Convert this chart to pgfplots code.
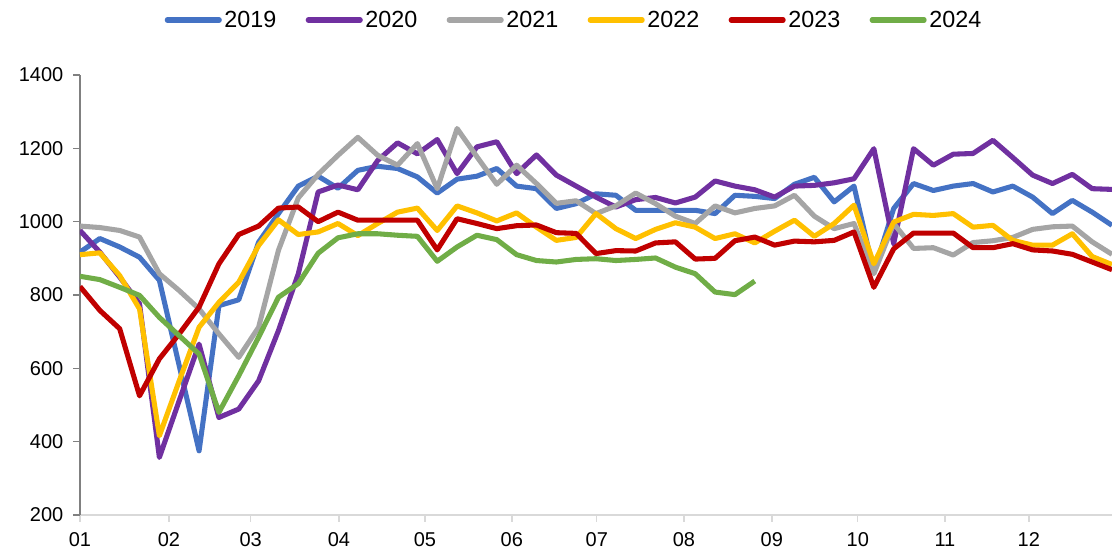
\documentclass[border=0pt]{standalone}
\usepackage{pgfplots}
\usepackage{pgfplotstable}
\pgfplotsset{compat=1.18}
\usepackage{fontspec}
\setmainfont{Liberation Sans}

\definecolor{c19}{HTML}{4472C4}
\definecolor{c20}{HTML}{7030A0}
\definecolor{c21}{HTML}{A5A5A5}
\definecolor{c22}{HTML}{FFC000}
\definecolor{c23}{HTML}{C00000}
\definecolor{c24}{HTML}{70AD47}

% weekly values, week index 0..52
\pgfplotstableread{
w  a    b    c    d    e    f
0  917  976  988  910  823  851
1  954  917  984  915  758  842
2  931  849  976  853  708  821
3  903  776  958  762  525  799
4  840  357  858  416  626  739
5  607  512  812  566  694  689
6  375  666  762  712  767  639
7  771  466  694  780  885  480
8  787  489  630  835  965  580
9  944  566  712  935  988  685
10 1022 703  922  1005 1037 794
11 1097 858  1065 965  1040 831
12 1124 1081 1129 972  1000 914
13 1091 1100 1181 995  1026 956
14 1140 1087 1230 962  1004 967
15 1151 1167 1181 995  1004 967
16 1145 1215 1154 1026 1004 963
17 1122 1185 1213 1037 1004 960
18 1078 1224 1090 976  923  892
19 1116 1131 1254 1043 1008 931
20 1124 1204 1177 1024 995  963
21 1145 1218 1102 1002 981  951
22 1097 1131 1154 1024 989  910
23 1090 1182 1104 985  991  894
24 1036 1127 1050 949  970  890
25 1049 1097 1057 957  968  897
26 1076 1067 1022 1022 913  899
27 1072 1040 1043 981  921  894
28 1031 1060 1078 954  920  897
29 1031 1066 1049 979  942  901
30 1031 1051 1015 997  945  876
31 1031 1067 995  985  898  858
32 1022 1111 1043 954  900  808
33 1072 1097 1024 967  948  801
34 1069 1087 1036 942  958  838
35 1063 1067 1043 974  936  nan
36 1102 1097 1072 1004 947  nan
37 1121 1099 1015 960  945  nan
38 1054 1106 981  995  949  nan
39 1097 1117 995  1045 972  nan
40 862  1199 858  885  821  nan
41 1036 940  995  999  926  nan
42 1104 1199 927  1020 969  nan
43 1085 1154 929  1017 969  nan
44 1097 1184 909  1022 969  nan
45 1104 1186 943  985  929  nan
46 1081 1222 948  990  929  nan
47 1097 1175 957  949  940  nan
48 1067 1127 979  936  923  nan
49 1022 1104 986  936  920  nan
50 1058 1129 988  967  911  nan
51 1026 1090 945  905  890  nan
52 990  1088 911  883  869  nan
}\datatable

\begin{document}
\begin{tikzpicture}
\useasboundingbox (-60pt,-27pt) rectangle (774pt,386.25pt);
\begin{axis}[
    scale only axis,
    width=774pt, height=330pt,
    xmin=0, xmax=52,
    ymin=200, ymax=1400,
    axis x line*=bottom,
    axis y line*=left,
    x axis line style={draw=black!15, line width=1.5pt},
    y axis line style={draw=black!50, line width=1.2pt},
    xtick={0,4.48,8.6,13.05,17.38,21.76,26.04,30.43,34.86,39.19,43.58,47.81},
    xticklabels={01,02,03,04,05,06,07,08,09,10,11,12},
    ytick={200,400,...,1400},
    tick align=outside,
    major tick length=5pt,
    xtick style={draw=black!15, line width=1pt},
    ytick style={draw=black!50, line width=1.2pt},
    tick label style={font=\fontsize{15}{18}\selectfont},
    yticklabel style={xshift=-4pt},
    xticklabel style={yshift=-4.5pt},
    /pgf/number format/assume math mode=true,
    yticklabel={\pgfmathprintnumber[fixed,1000 sep={}]{\tick}},
    unbounded coords=jump,
    every axis plot/.append style={line width=3.8pt, line join=round, mark=none},
    legend columns=6,
    legend style={at={(0.479,1.125)}, anchor=center, draw=none,
        font=\fontsize{17.5}{20}\selectfont,
        /tikz/every even column/.append style={column sep=20pt},
        nodes={inner sep=2pt},
        inner sep=0pt},
    legend cell align=left,
    legend image code/.code={\draw[#1, line cap=round] (0pt,0pt) -- (39pt,0pt);},
]
\addplot[c19] table[x=w, y=a] {\datatable};
\addplot[c20] table[x=w, y=b] {\datatable};
\addplot[c21] table[x=w, y=c] {\datatable};
\addplot[c22] table[x=w, y=d] {\datatable};
\addplot[c23] table[x=w, y=e] {\datatable};
\addplot[c24] table[x=w, y=f] {\datatable};
\legend{2019,2020,2021,2022,2023,2024}
\end{axis}
\end{tikzpicture}
\end{document}
